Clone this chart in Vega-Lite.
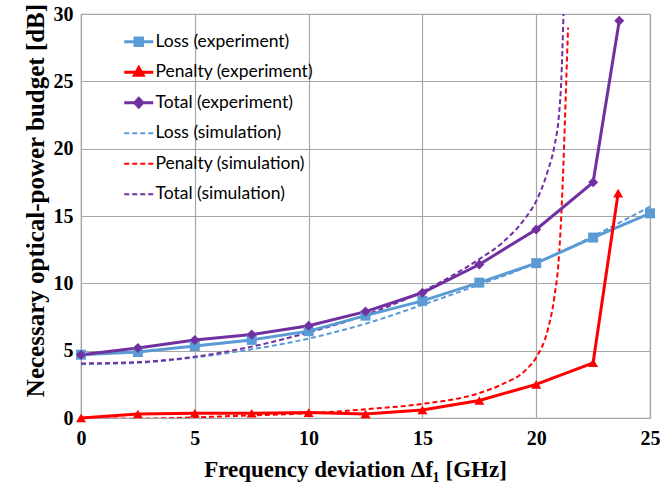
{
  "$schema": "https://vega.github.io/schema/vega-lite/v6.json",
  "width": 569,
  "height": 404,
  "autosize": "none",
  "padding": {"left": 81, "top": 14, "right": 13, "bottom": 76},
  "background": "white",
  "config": {
    "view": {"stroke": "#A6A6A6", "strokeWidth": 1.2},
    "axis": {
      "labelFont": "Liberation Serif", "labelFontWeight": "bold", "labelFontSize": 20, "labelColor": "black", "labelFlush": false,
      "titleFont": "Liberation Serif", "titleFontWeight": "bold", "titleFontSize": 23, "titleColor": "black",
      "gridColor": "#A6A6A6", "gridWidth": 1.2, "gridOpacity": 1, "domain": false, "ticks": false
    },
    "legend": {
      "labelFont": "Lato", "labelFontSize": 17.5, "labelColor": "black"
    }
  },
  "data": {"values": [
    {"x": 0, "y": 4.7, "series": "Loss (experiment)"},
    {"x": 2.5, "y": 4.9, "series": "Loss (experiment)"},
    {"x": 5, "y": 5.35, "series": "Loss (experiment)"},
    {"x": 7.5, "y": 5.8, "series": "Loss (experiment)"},
    {"x": 10, "y": 6.45, "series": "Loss (experiment)"},
    {"x": 12.5, "y": 7.6, "series": "Loss (experiment)"},
    {"x": 15, "y": 8.7, "series": "Loss (experiment)"},
    {"x": 17.5, "y": 10.05, "series": "Loss (experiment)"},
    {"x": 20, "y": 11.5, "series": "Loss (experiment)"},
    {"x": 22.5, "y": 13.4, "series": "Loss (experiment)"},
    {"x": 25, "y": 15.2, "series": "Loss (experiment)"},

    {"x": 0, "y": 0.0, "series": "Penalty (experiment)"},
    {"x": 2.5, "y": 0.3, "series": "Penalty (experiment)"},
    {"x": 5, "y": 0.35, "series": "Penalty (experiment)"},
    {"x": 7.5, "y": 0.35, "series": "Penalty (experiment)"},
    {"x": 10, "y": 0.4, "series": "Penalty (experiment)"},
    {"x": 12.5, "y": 0.3, "series": "Penalty (experiment)"},
    {"x": 15, "y": 0.6, "series": "Penalty (experiment)"},
    {"x": 17.5, "y": 1.3, "series": "Penalty (experiment)"},
    {"x": 20, "y": 2.5, "series": "Penalty (experiment)"},
    {"x": 22.5, "y": 4.1, "series": "Penalty (experiment)"},
    {"x": 23.6, "y": 16.7, "series": "Penalty (experiment)"},

    {"x": 0, "y": 4.7, "series": "Total (experiment)"},
    {"x": 2.5, "y": 5.2, "series": "Total (experiment)"},
    {"x": 5, "y": 5.8, "series": "Total (experiment)"},
    {"x": 7.5, "y": 6.2, "series": "Total (experiment)"},
    {"x": 10, "y": 6.85, "series": "Total (experiment)"},
    {"x": 12.5, "y": 7.9, "series": "Total (experiment)"},
    {"x": 15, "y": 9.3, "series": "Total (experiment)"},
    {"x": 17.5, "y": 11.4, "series": "Total (experiment)"},
    {"x": 20, "y": 14.0, "series": "Total (experiment)"},
    {"x": 22.5, "y": 17.5, "series": "Total (experiment)"},
    {"x": 23.65, "y": 29.5, "series": "Total (experiment)"},

    {"x": 0, "y": 4.0, "series": "Loss (simulation)"},
    {"x": 2.5, "y": 4.1, "series": "Loss (simulation)"},
    {"x": 5, "y": 4.5, "series": "Loss (simulation)"},
    {"x": 7.5, "y": 5.1, "series": "Loss (simulation)"},
    {"x": 10, "y": 5.9, "series": "Loss (simulation)"},
    {"x": 12.5, "y": 7.0, "series": "Loss (simulation)"},
    {"x": 15, "y": 8.4, "series": "Loss (simulation)"},
    {"x": 17.5, "y": 9.9, "series": "Loss (simulation)"},
    {"x": 20, "y": 11.5, "series": "Loss (simulation)"},
    {"x": 22.5, "y": 13.5, "series": "Loss (simulation)"},
    {"x": 25, "y": 15.7, "series": "Loss (simulation)"},

    {"x": 0, "y": 0.0, "series": "Penalty (simulation)"},
    {"x": 2.5, "y": -0.05, "series": "Penalty (simulation)"},
    {"x": 5, "y": 0.05, "series": "Penalty (simulation)"},
    {"x": 7.5, "y": 0.2, "series": "Penalty (simulation)"},
    {"x": 10, "y": 0.35, "series": "Penalty (simulation)"},
    {"x": 12.5, "y": 0.65, "series": "Penalty (simulation)"},
    {"x": 15, "y": 1.05, "series": "Penalty (simulation)"},
    {"x": 17.5, "y": 1.85, "series": "Penalty (simulation)"},
    {"x": 18.5, "y": 2.5, "series": "Penalty (simulation)"},
    {"x": 19.5, "y": 3.5, "series": "Penalty (simulation)"},
    {"x": 20, "y": 4.5, "series": "Penalty (simulation)"},
    {"x": 20.5, "y": 6.5, "series": "Penalty (simulation)"},
    {"x": 20.8, "y": 9.0, "series": "Penalty (simulation)"},
    {"x": 21.0, "y": 12.0, "series": "Penalty (simulation)"},
    {"x": 21.1, "y": 15.0, "series": "Penalty (simulation)"},
    {"x": 21.2, "y": 19.0, "series": "Penalty (simulation)"},
    {"x": 21.3, "y": 24.0, "series": "Penalty (simulation)"},
    {"x": 21.4, "y": 29.0, "series": "Penalty (simulation)"},

    {"x": 0, "y": 4.05, "series": "Total (simulation)"},
    {"x": 2.5, "y": 4.15, "series": "Total (simulation)"},
    {"x": 5, "y": 4.55, "series": "Total (simulation)"},
    {"x": 7.5, "y": 5.3, "series": "Total (simulation)"},
    {"x": 10, "y": 6.35, "series": "Total (simulation)"},
    {"x": 12.5, "y": 7.65, "series": "Total (simulation)"},
    {"x": 15, "y": 9.4, "series": "Total (simulation)"},
    {"x": 17.5, "y": 11.8, "series": "Total (simulation)"},
    {"x": 18.5, "y": 13.0, "series": "Total (simulation)"},
    {"x": 19.5, "y": 14.8, "series": "Total (simulation)"},
    {"x": 20, "y": 16.1, "series": "Total (simulation)"},
    {"x": 20.5, "y": 18.3, "series": "Total (simulation)"},
    {"x": 20.8, "y": 20.2, "series": "Total (simulation)"},
    {"x": 21.0, "y": 22.5, "series": "Total (simulation)"},
    {"x": 21.1, "y": 25.0, "series": "Total (simulation)"},
    {"x": 21.2, "y": 30.0, "series": "Total (simulation)"}
  ]},
  "encoding": {
    "x": {"field": "x", "type": "quantitative", "scale": {"domain": [0, 25], "nice": false, "zero": false},
          "axis": {"values": [0, 5, 10, 15, 20, 25], "labelPadding": 10, "title": "Frequency deviation Δf₁ [GHz]", "titlePadding": 10, "titleX": 274}},
    "y": {"field": "y", "type": "quantitative", "scale": {"domain": [0, 30], "nice": false},
          "axis": {"values": [0, 5, 10, 15, 20, 25, 30], "labelPadding": 8, "title": "Necessary optical-power budget [dB]", "titleFontSize": 25, "titlePadding": 5, "titleY": 186}},
    "color": {"field": "series", "type": "nominal",
      "scale": {"domain": ["Loss (experiment)", "Penalty (experiment)", "Total (experiment)", "Loss (simulation)", "Penalty (simulation)", "Total (simulation)"],
                "range": ["#5B9BD5", "#FF0000", "#7030A0", "#5B9BD5", "#FF0000", "#7030A0"]},
      "legend": {"title": null, "orient": "none", "legendX": 49, "legendY": 19, "padding": 0,
        "symbolSize": 841, "rowPadding": 8.5, "gridAlign": "all", "labelOffset": 8, "symbolStrokeWidth": 3,
        "encode": {"symbols": {"update": {
          "shape": {"signal": "datum.value == 'Loss (experiment)' ? 'M-1,0H1M-0.26,-0.26H0.26V0.26H-0.26Z' : datum.value == 'Penalty (experiment)' ? 'M-1,0H1M0,-0.32L0.3,0.2H-0.3Z' : datum.value == 'Total (experiment)' ? 'M-1,0H1M0,-0.3L0.28,0L0,0.3L-0.28,0Z' : 'M-1,0H1'"},
          "fill": {"signal": "scale('color', datum.value)"},
          "stroke": {"signal": "scale('color', datum.value)"},
          "strokeDash": {"signal": "test(/simulation/, datum.value) ? [5, 3] : [1, 0]"},
          "strokeWidth": {"signal": "test(/simulation/, datum.value) ? 2 : 3"},
          "opacity": {"value": 1}
        }}}}
    }
  },
  "layer": [
    {
      "transform": [{"filter": "test(/simulation/, datum.series)"}],
      "mark": {"type": "line", "strokeWidth": 2, "strokeDash": [5, 3], "interpolate": "monotone", "clip": true}
    },
    {
      "transform": [{"filter": "test(/experiment/, datum.series)"}],
      "mark": {"type": "line", "strokeWidth": 3}
    },
    {
      "transform": [{"filter": "test(/experiment/, datum.series)"}],
      "mark": {"type": "point", "filled": true, "opacity": 1, "size": 100},
      "encoding": {
        "shape": {"field": "series", "type": "nominal", "legend": null,
          "scale": {"domain": ["Loss (experiment)", "Penalty (experiment)", "Total (experiment)"], "range": ["square", "triangle-up", "diamond"]}}
      }
    }
  ]
}
